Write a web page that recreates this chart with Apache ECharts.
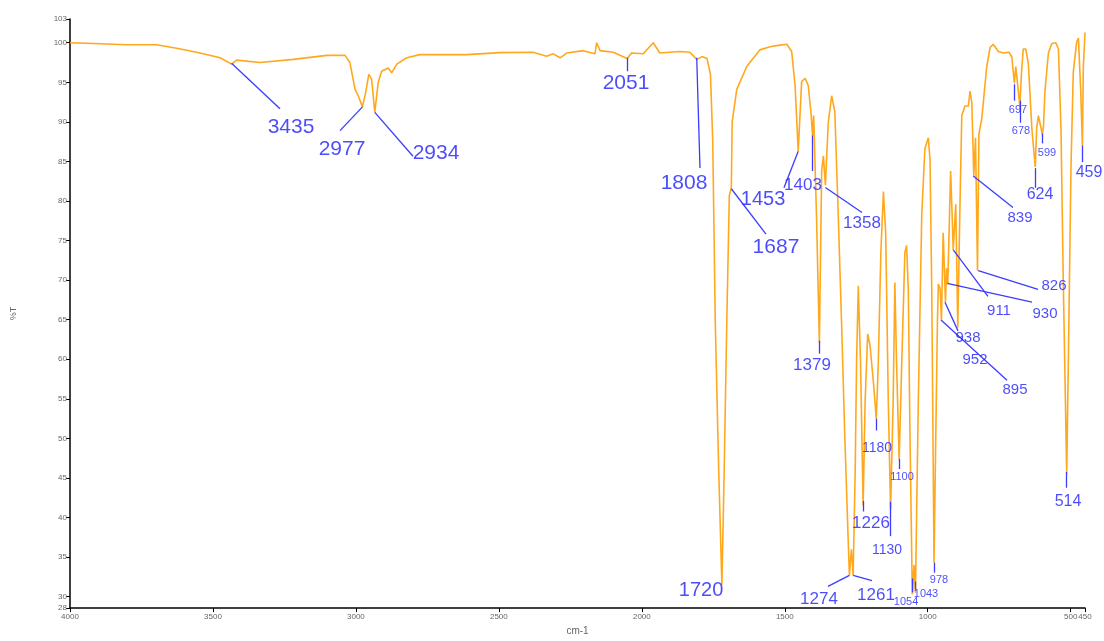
<!DOCTYPE html>
<html>
<head>
<meta charset="utf-8">
<script src="https://cdn.jsdelivr.net/npm/echarts@6/dist/echarts.min.js"></script>
<style>
html,body{margin:0;padding:0;background:#fff;}
#chart{width:1104px;height:641px;}
</style>
</head>
<body>
<div id="chart"></div>
<script>
// ---- data ----
const wavenumbers = [4000,3918,3802,3697,3627,3545,3475,3435,3417,3335,3219,3102,3038,3021,3003,2992,2977,2966,2955,2945,2934,2922,2910,2887,2875,2857,2822,2776,2613,2496,2380,2333,2310,2286,2263,2205,2164,2158,2146,2100,2051,2036,1995,1960,1937,1867,1832,1808,1789,1772,1760,1752,1743,1731,1720,1712,1703,1694,1687,1684,1668,1633,1587,1552,1517,1493,1476,1464,1453,1441,1429,1418,1408,1403,1399,1389,1379,1371,1365,1358,1354,1348,1336,1325,1313,1301,1290,1278,1274,1267,1261,1254,1249,1243,1235,1226,1219,1210,1202,1190,1180,1173,1164,1155,1147,1138,1130,1121,1115,1109,1100,1091,1080,1074,1068,1062,1054,1048,1043,1033,1021,1010,998,992,986,978,972,966,963,957,952,946,938,934,930,920,914,911,902,895,887,881,870,858,852,846,839,833,826,821,811,806,794,782,771,753,736,716,706,697,692,678,672,666,657,648,636,624,619,613,599,595,590,578,566,552,543,534,526,514,508,499,491,479,473,465,459,456,450];
const transmittance = [100.0,99.9,99.75,99.75,99.3,98.7,98.1,97.3,97.8,97.5,97.9,98.4,98.4,97.5,94.1,93.3,91.9,93.7,96.0,95.4,91.2,95.0,96.4,96.8,96.2,97.3,98.1,98.5,98.5,98.75,98.8,98.3,98.6,98.1,98.7,99.0,98.6,100.0,99.0,98.8,98.0,98.7,98.6,100.0,98.7,98.9,98.8,97.9,98.25,98.0,96.0,87.6,64.5,45.8,31.5,45.8,64.5,80.7,81.7,90.0,94.1,97.0,99.1,99.5,99.7,99.8,98.9,94.6,86.3,95.1,95.5,94.6,91.0,88.3,90.8,78.0,62.1,83.8,85.7,82.0,85.2,89.9,93.3,91.3,78.2,64.1,50.1,36.9,32.7,36.0,32.7,45.4,59.5,69.3,59.5,41.5,54.7,63.2,61.8,57.1,52.5,59.5,73.5,81.2,75.8,54.7,41.0,54.7,69.7,59.5,47.3,59.5,73.5,74.4,68.8,50.1,30.3,34.0,30.5,54.7,78.2,86.6,88.0,85.2,68.8,34.3,50.1,65.0,69.5,69.0,65.0,76.0,67.2,71.5,69.5,83.8,77.5,73.8,79.6,64.0,80.0,90.8,92.0,92.0,93.9,92.5,83.2,88.0,71.2,88.5,90.4,92.3,96.9,99.4,99.8,98.9,98.7,98.8,98.2,94.9,97.0,92.0,96.3,99.2,99.2,97.3,89.2,84.3,89.2,90.8,88.4,89.6,93.9,98.7,99.9,100.0,99.2,89.2,70.0,45.5,60.3,84.3,96.3,100.1,100.6,93.9,87.0,96.8,101.3];

const xTicks = [4000,3500,3000,2500,2000,1500,1000,500,450];
const yTicks = [28.56,30,35,40,45,50,55,60,65,70,75,80,85,90,95,100,103];

// peak labels and the point each one marks
const peakLabels = ['3435','2977','2934','2051','1808','1720','1687','1453','1403','1379','1358','1274','1261','1226','1180','1130','1100','1054','1043','978','952','938','930','911','895','839','826','697','678','624','599','514','459'];
const peakWn = [3435,2977,2934,2051,1808,1720,1687,1453,1403,1379,1358,1274,1261,1226,1180,1130,1100,1054,1043,978,952,939.7,931.6,910.6,953.7,840.8,823.3,697,678,624,599,514,459];
const peakT  = [97.4,91.9,91.2,98.1,98.1,31.5,81.55,86.3,88.3,62.34,81.7,32.7,32.7,42.1,52.5,42.0,47.4,32.3,31.9,34.3,65,67.21,69.58,73.82,64.96,83.17,71.2,94.76,92.68,84.16,88.53,45.76,87.03];

// annotation layout (data units): leader end, text centre, font size
const leaderEnd = [[3265.5,91.65],[3055.7,88.9],[2800.4,85.66],[2051,96.4],[1796.6,84.16],null,[1565.7,75.81],[1502.8,81.67],[1403,83.79],[1379,60.72],[1230,78.55],[1348.9,31.3],[1195,32.04],[1226,40.77],[1180,51.0],[1130,37.65],[1100,46.14],[1054,30.55],[1043,30.92],[978,33.04],null,[894.2,63.59],[635.4,67.21],[789.3,67.96],[722.8,57.36],[701.9,79.18],[614.4,68.83],[697,92.68],[678,89.9],[624,81.67],[599,87.28],[514,43.77],[459,84.91]];
const textAt = [[3227,89.35],[3048.7,86.6],[2719.9,86.1],[2055.4,94.84],[1852.5,82.24],[1793,30.75],[1530.8,74.14],[1576.2,80.25],[1436.3,81.99],[1404.9,59.18],[1230,77.13],[1380.4,29.65],[1181,30.2],[1198.5,39.23],[1177.5,48.83],[1142.5,35.86],[1090.1,45.09],[1076,29.3],[1006.1,30.4],[960.6,32.12],[834.8,59.92],[859.2,62.67],[589.9,65.78],[750.8,66.16],[694.9,56.18],[677.4,77.88],[558.5,69.28],[684.4,91.47],[673.9,88.85],[607.4,80.75],[583,86.11],[509.5,41.97],[436,83.62]];
const textSize = [21,21,21,21,21,20,21,20,17,17,17,17,17,17,14,14,11,11,11,11,15,15,15,15,15,15,15,11,11,16,11,16,16];

const spectrum = wavenumbers.map((w, i) => [w, transmittance[i]]);
const leaderLines = [];
peakLabels.forEach((t, i) => {
  if (leaderEnd[i]) leaderLines.push([{coord: [peakWn[i], peakT[i]]}, {coord: leaderEnd[i]}]);
});
const labelData = peakLabels.map((t, i) => ({
  value: textAt[i],
  label: {formatter: t, fontSize: textSize[i]}
}));

const chart = echarts.init(document.getElementById('chart'), null, {renderer: 'canvas'});
const axisGray = '#666';
chart.setOption({
  animation: false,
  backgroundColor: '#fff',
  textStyle: {fontFamily: 'Liberation Sans, Arial, sans-serif'},
  grid: {left: 70, right: 19, top: 19, bottom: 22, containLabel: false},
  xAxis: {
    type: 'value', inverse: true, min: 450, max: 4000,
    name: 'cm-1', nameLocation: 'middle', nameGap: 15,
    nameTextStyle: {fontSize: 10, color: axisGray},
    axisLine: {show: true, lineStyle: {color: '#000', width: 1.5}},
    axisTick: {show: true, length: 4, customValues: xTicks, lineStyle: {color: '#000'}},
    axisLabel: {customValues: xTicks, fontSize: 8, color: axisGray, margin: 5, showMinLabel: true, showMaxLabel: true,
      formatter: v => String(v)},
    splitLine: {show: false}
  },
  yAxis: {
    type: 'value', min: 28.56, max: 103,
    name: '%T', nameLocation: 'middle', nameGap: 52, nameRotate: 90,
    nameTextStyle: {fontSize: 9, color: axisGray},
    axisLine: {show: true, lineStyle: {color: '#000', width: 1.5}},
    axisTick: {show: true, length: 4, customValues: yTicks, lineStyle: {color: '#000'}},
    axisLabel: {customValues: yTicks, fontSize: 8, color: axisGray, margin: 3, showMinLabel: true, showMaxLabel: true,
      formatter: v => String(Math.floor(v + 1e-9))},
    splitLine: {show: false}
  },
  series: [
    {
      type: 'line', data: spectrum, showSymbol: false, symbol: 'none',
      lineStyle: {color: '#FFA81C', width: 1.6},
      z: 2,
      markLine: {
        silent: true, symbol: ['none', 'none'], animation: false,
        label: {show: false},
        lineStyle: {color: '#3C3CFF', width: 1.3, type: 'solid'},
        emphasis: {disabled: true},
        data: leaderLines
      }
    },
    {
      type: 'scatter', data: labelData, symbolSize: 0, clip: false, silent: true, z: 5,
      label: {show: true, position: 'inside', color: '#1E1EFA', align: 'center', verticalAlign: 'middle',
        fontFamily: 'Liberation Sans, Arial, sans-serif'}
    }
  ]
});
</script>
</body>
</html>
